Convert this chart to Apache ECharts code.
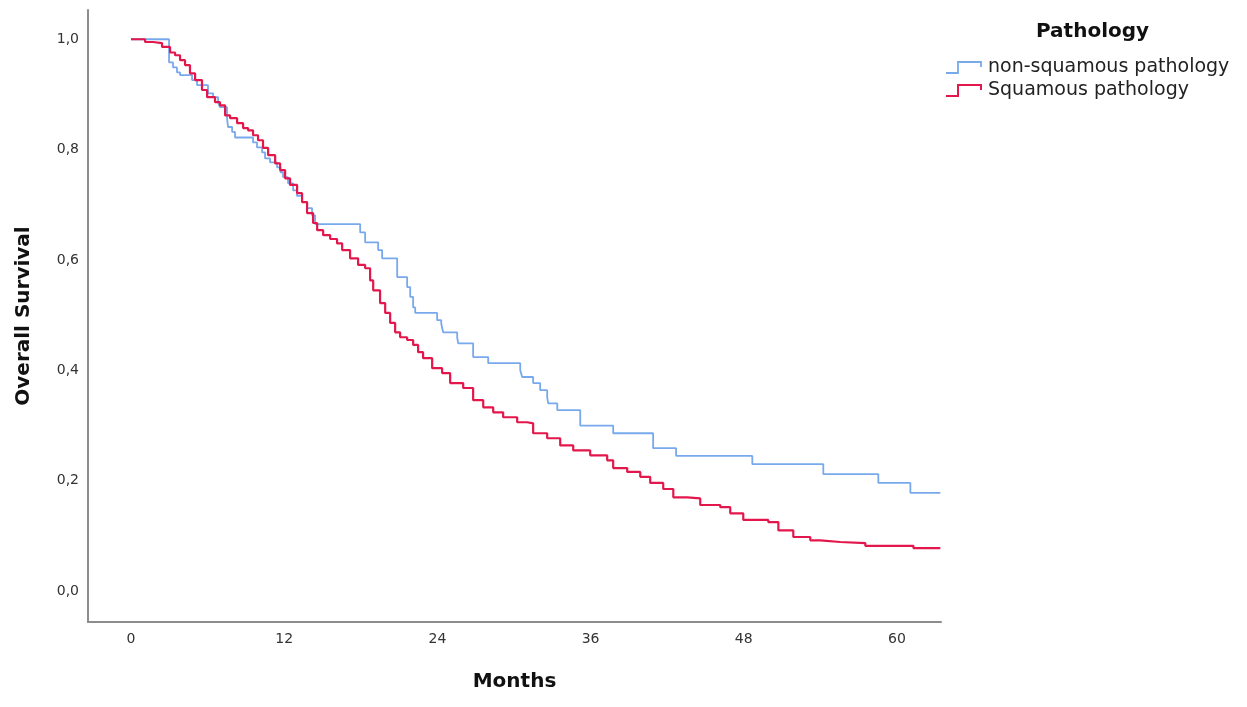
<!DOCTYPE html>
<html>
<head>
<meta charset="utf-8">
<script src="https://cdn.jsdelivr.net/npm/echarts@6/dist/echarts.min.js"></script>
<style>
html,body{margin:0;padding:0;background:#fff;}
#chart{width:1247px;height:707px;}
</style>
</head>
<body>
<div id="chart"></div>
<script>
// Kaplan-Meier steps: [month of step, survival after step]
const nonSqMonths = [0, 2.98, 3.29, 3.6, 3.84, 4.78, 5.17, 6.03, 6.43, 6.82, 6.97, 7.52, 7.6, 7.92, 8.15, 9.56, 9.87, 10.27, 10.5, 10.89, 11.44, 11.7, 11.91, 12.3, 12.7, 13.0, 13.4, 13.8, 14.18, 14.42, 17.95, 18.34, 19.36, 19.67, 20.85, 21.63, 21.87, 22.1, 22.26, 23.98, 24.3, 24.45, 25.55, 25.63, 26.8, 27.98, 30.49, 30.64, 31.5, 32.05, 32.6, 32.68, 33.39, 35.19, 37.77, 40.9, 42.7, 48.67, 54.23, 58.54, 61.05, 63.4];
const nonSqSurv = [1.0, 0.958, 0.949, 0.94, 0.935, 0.926, 0.917, 0.902, 0.895, 0.886, 0.877, 0.857, 0.841, 0.832, 0.822, 0.813, 0.804, 0.795, 0.784, 0.777, 0.768, 0.759, 0.75, 0.739, 0.726, 0.716, 0.705, 0.694, 0.681, 0.665, 0.65, 0.632, 0.618, 0.603, 0.569, 0.551, 0.533, 0.514, 0.504, 0.491, 0.485, 0.469, 0.46, 0.449, 0.424, 0.413, 0.40, 0.388, 0.377, 0.364, 0.351, 0.34, 0.328, 0.30, 0.286, 0.259, 0.245, 0.23, 0.212, 0.196, 0.178, 0.178];

const sqMonths = [0, 1.1, 1.72, 2.43, 3.06, 3.45, 3.84, 4.23, 4.62, 5.02, 5.56, 5.96, 6.58, 6.97, 7.37, 7.76, 8.31, 8.78, 9.17, 9.56, 9.95, 10.34, 10.74, 11.29, 11.68, 12.07, 12.46, 13.01, 13.4, 13.79, 14.26, 14.58, 15.05, 15.6, 16.14, 16.54, 17.16, 17.79, 18.34, 18.73, 18.97, 19.51, 19.91, 20.3, 20.69, 21.08, 21.63, 22.1, 22.49, 22.88, 23.59, 24.37, 25.0, 26.02, 26.8, 27.59, 28.37, 29.15, 30.25, 31.03, 31.5, 32.6, 33.62, 34.64, 35.97, 37.3, 37.77, 38.87, 39.89, 40.67, 41.69, 42.48, 43.57, 44.59, 46.16, 46.94, 47.96, 49.92, 50.71, 51.88, 53.21, 54.0, 55.56, 57.52, 61.29, 63.4];
const sqSurv = [1.0, 0.995, 0.993, 0.986, 0.976, 0.971, 0.962, 0.953, 0.938, 0.926, 0.908, 0.895, 0.886, 0.880, 0.862, 0.857, 0.848, 0.839, 0.835, 0.826, 0.817, 0.803, 0.79, 0.775, 0.763, 0.748, 0.736, 0.721, 0.705, 0.685, 0.667, 0.654, 0.645, 0.638, 0.63, 0.618, 0.603, 0.591, 0.585, 0.563, 0.545, 0.522, 0.504, 0.486, 0.469, 0.46, 0.455, 0.446, 0.433, 0.422, 0.404, 0.395, 0.377, 0.368, 0.346, 0.333, 0.324, 0.315, 0.306, 0.304, 0.286, 0.277, 0.264, 0.255, 0.246, 0.237, 0.223, 0.216, 0.207, 0.196, 0.185, 0.170, 0.168, 0.156, 0.152, 0.141, 0.129, 0.125, 0.11, 0.098, 0.092, 0.089, 0.087, 0.082, 0.078, 0.078];

const seriesNames = ['non-squamous pathology', 'Squamous pathology'];
const xTicks = [0, 12, 24, 36, 48, 60];
const yTicks = [0, 0.2, 0.4, 0.6, 0.8, 1.0];

const zip = (a, b) => a.map((v, i) => [v, b[i]]);
const blue = '#78a9ec';
const red = '#e3174b';
const font = 'DejaVu Sans';
const stepIcon = 'path://M0,11 L12,11 L12,0 L35,0 L35,5';

const chart = echarts.init(document.getElementById('chart'), null, {renderer: 'canvas'});
chart.setOption({
  backgroundColor: '#ffffff',
  animation: false,
  title: {
    text: 'Pathology',
    left: 1031, top: 17,
    textStyle: {fontFamily: font, fontWeight: 'bold', fontSize: 20, color: '#111'}
  },
  legend: {
    orient: 'vertical',
    left: 945, top: 58,
    padding: 0,
    itemWidth: 35, itemHeight: 11,
    itemGap: 4,
    data: [
      {name: seriesNames[0], icon: stepIcon,
       itemStyle: {color: 'rgba(0,0,0,0)', borderColor: blue, borderWidth: 1.8}},
      {name: seriesNames[1], icon: stepIcon,
       itemStyle: {color: 'rgba(0,0,0,0)', borderColor: red, borderWidth: 2}}
    ],
    textStyle: {fontFamily: font, fontSize: 19, color: '#222', padding: [0, 0, 0, 2]}
  },
  grid: {left: 88, right: 306, top: 10, bottom: 85, containLabel: false},
  xAxis: {
    type: 'value',
    min: -3.37, max: 63.45,
    name: 'Months',
    nameLocation: 'middle',
    nameGap: 50,
    nameTextStyle: {fontFamily: font, fontWeight: 'bold', fontSize: 20, color: '#111'},
    axisLine: {show: true, onZero: false, lineStyle: {color: '#8c8c8c', width: 2}},
    axisTick: {show: false},
    splitLine: {show: false},
    axisLabel: {
      customValues: xTicks,
      margin: 10,
      fontFamily: font, fontSize: 14, color: '#333',
      formatter: v => String(v)
    }
  },
  yAxis: {
    type: 'value',
    min: -0.056, max: 1.053,
    name: 'Overall Survival',
    nameLocation: 'middle',
    nameGap: 54,
    nameRotate: 90,
    nameTextStyle: {fontFamily: font, fontWeight: 'bold', fontSize: 20, color: '#111'},
    axisLine: {show: true, onZero: false, lineStyle: {color: '#8c8c8c', width: 2}},
    axisTick: {show: false},
    splitLine: {show: false},
    axisLabel: {
      customValues: yTicks,
      margin: 9,
      fontFamily: font, fontSize: 14, color: '#333',
      formatter: v => v.toFixed(1).replace('.', ',')
    }
  },
  series: [
    {
      name: seriesNames[0],
      type: 'line',
      step: 'end',
      showSymbol: false,
      symbol: 'none',
      data: zip(nonSqMonths, nonSqSurv),
      lineStyle: {color: blue, width: 1.8},
      itemStyle: {color: blue},
      z: 2
    },
    {
      name: seriesNames[1],
      type: 'line',
      step: 'end',
      showSymbol: false,
      symbol: 'none',
      data: zip(sqMonths, sqSurv),
      lineStyle: {color: red, width: 2.2},
      itemStyle: {color: red},
      z: 3
    }
  ]
});
</script>
</body>
</html>
